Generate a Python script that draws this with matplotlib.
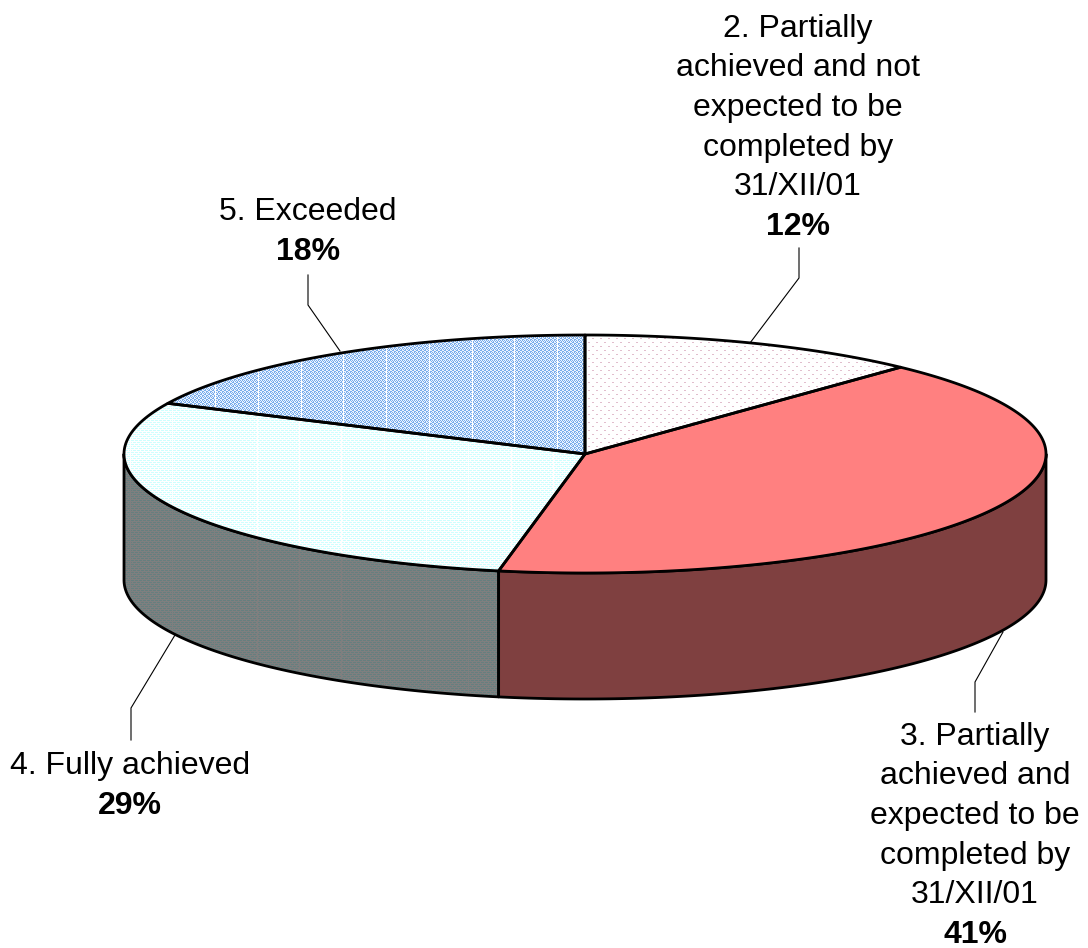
import numpy as np
import matplotlib
matplotlib.use("Agg")
import matplotlib.pyplot as plt
from matplotlib.patches import Polygon

# Share of objectives by level of achievement, clockwise from twelve o'clock
labels = [
    "2. Partially\nachieved and not\nexpected to be\ncompleted by\n31/XII/01",
    "3. Partially\nachieved and\nexpected to be\ncompleted by\n31/XII/01",
    "4. Fully achieved",
    "5. Exceeded",
]
shares = [12, 41, 29, 18]

W, H = 1088, 948
CX, CY, RX, RY, DEPTH = 585, 454, 461, 119, 126
EDGE = 2.0
FONT = "Liberation Sans"
FS = 23


def tile(rows, palette):
    """Repeat a small pixel motif over the whole canvas."""
    motif = np.array([[palette[c] for c in row] for row in rows], dtype=float) / 255
    ny, nx = motif.shape[:2]
    return np.tile(motif, (H // ny + 1, W // nx + 1, 1))[:H, :W]


def with_ribs(tex, step, offset=0.0):
    """Add the faint vertical white ribs of the shaded fills."""
    out = tex.copy()
    out[:, np.round(np.arange(offset, W - 1, step)).astype(int)] = 1.0
    return out


WHITE = (255, 255, 255)
dots = tile(["........", "........", "pp......", "........", "........", "........", "....pp..", "........"],
            {".": WHITE, "p": (225, 190, 205)})
red = tile(["r"], {"r": (255, 128, 128)})
cyan = with_ribs(tile(["cc.c", "....", ".ccc", "...."],
                      {"c": (205, 255, 255), ".": WHITE}), 42.3, 3)
blue = with_ribs(tile(["b.b.", ".b.b", "bb..", "..bb"],
                      {".": (236, 244, 254), "b": (120, 172, 236)}), 42.7, 1.8)
textures = [dots, red, cyan, blue]

fig = plt.figure(figsize=(W / 100, H / 100), dpi=100)
ax = fig.add_axes([0, 0, 1, 1])
ax.set_xlim(0, W)
ax.set_ylim(H, 0)
ax.axis("off")


def rim(a):
    return CX + RX * np.sin(a), CY - RY * np.cos(a)


def paint(points, texture, z):
    poly = Polygon(points, closed=True, fc="none", ec="black", lw=EDGE,
                   joinstyle="round", zorder=z + 0.5)
    ax.add_patch(poly)
    img = ax.imshow(texture, extent=(0, W, H, 0), origin="upper",
                    interpolation="nearest", aspect="auto", zorder=z)
    img.set_clip_path(poly)


edges = np.radians(np.concatenate([[0], np.cumsum(shares)]) * 3.6)

for i, tex in enumerate(textures):
    a0, a1 = edges[i], edges[i + 1]

    # Outer wall: only the part of the rim that faces the viewer
    lo, hi = max(a0, np.pi / 2), min(a1, 3 * np.pi / 2)
    if hi > lo:
        t = np.linspace(lo, hi, 160)
        x, y = rim(t)
        wall = np.r_[np.c_[x, y], np.c_[x[::-1], y[::-1] + DEPTH]]
        paint(wall, tex * 0.5, 2)

for i, tex in enumerate(textures):
    a0, a1 = edges[i], edges[i + 1]
    t = np.linspace(a0, a1, 240)
    x, y = rim(t)
    paint(np.r_[[[CX, CY]], np.c_[x, y]], tex, 3)

# Callout leaders, from the label down to the slice
leaders = [
    [(799, 248), (799, 278), (750, 343)],
    [(975, 712), (975, 682), (1003, 632)],
    [(131, 740), (131, 708), (175, 635)],
    [(308, 275), (308, 305), (340, 351)],
]
for pts in leaders:
    px, py = zip(*pts)
    ax.plot(px, py, color="black", lw=0.8, zorder=5)

# Label block: anchor is the baseline of the bold percentage line
anchors = [(798, 235), (975, 943), (130, 814), (308, 260)]
LINE = 39.7
for label, share, (ax_x, ax_y) in zip(labels, shares, anchors):
    ax.text(ax_x, ax_y, f"{share}%", ha="center", va="baseline",
            fontsize=FS, fontweight="bold", family=FONT, zorder=6)
    for k, line in enumerate(reversed(label.split("\n")), start=1):
        ax.text(ax_x, ax_y - k * LINE, line, ha="center", va="baseline",
                fontsize=FS, family=FONT, zorder=6)

fig.savefig("out.png", dpi=100, facecolor="white")
